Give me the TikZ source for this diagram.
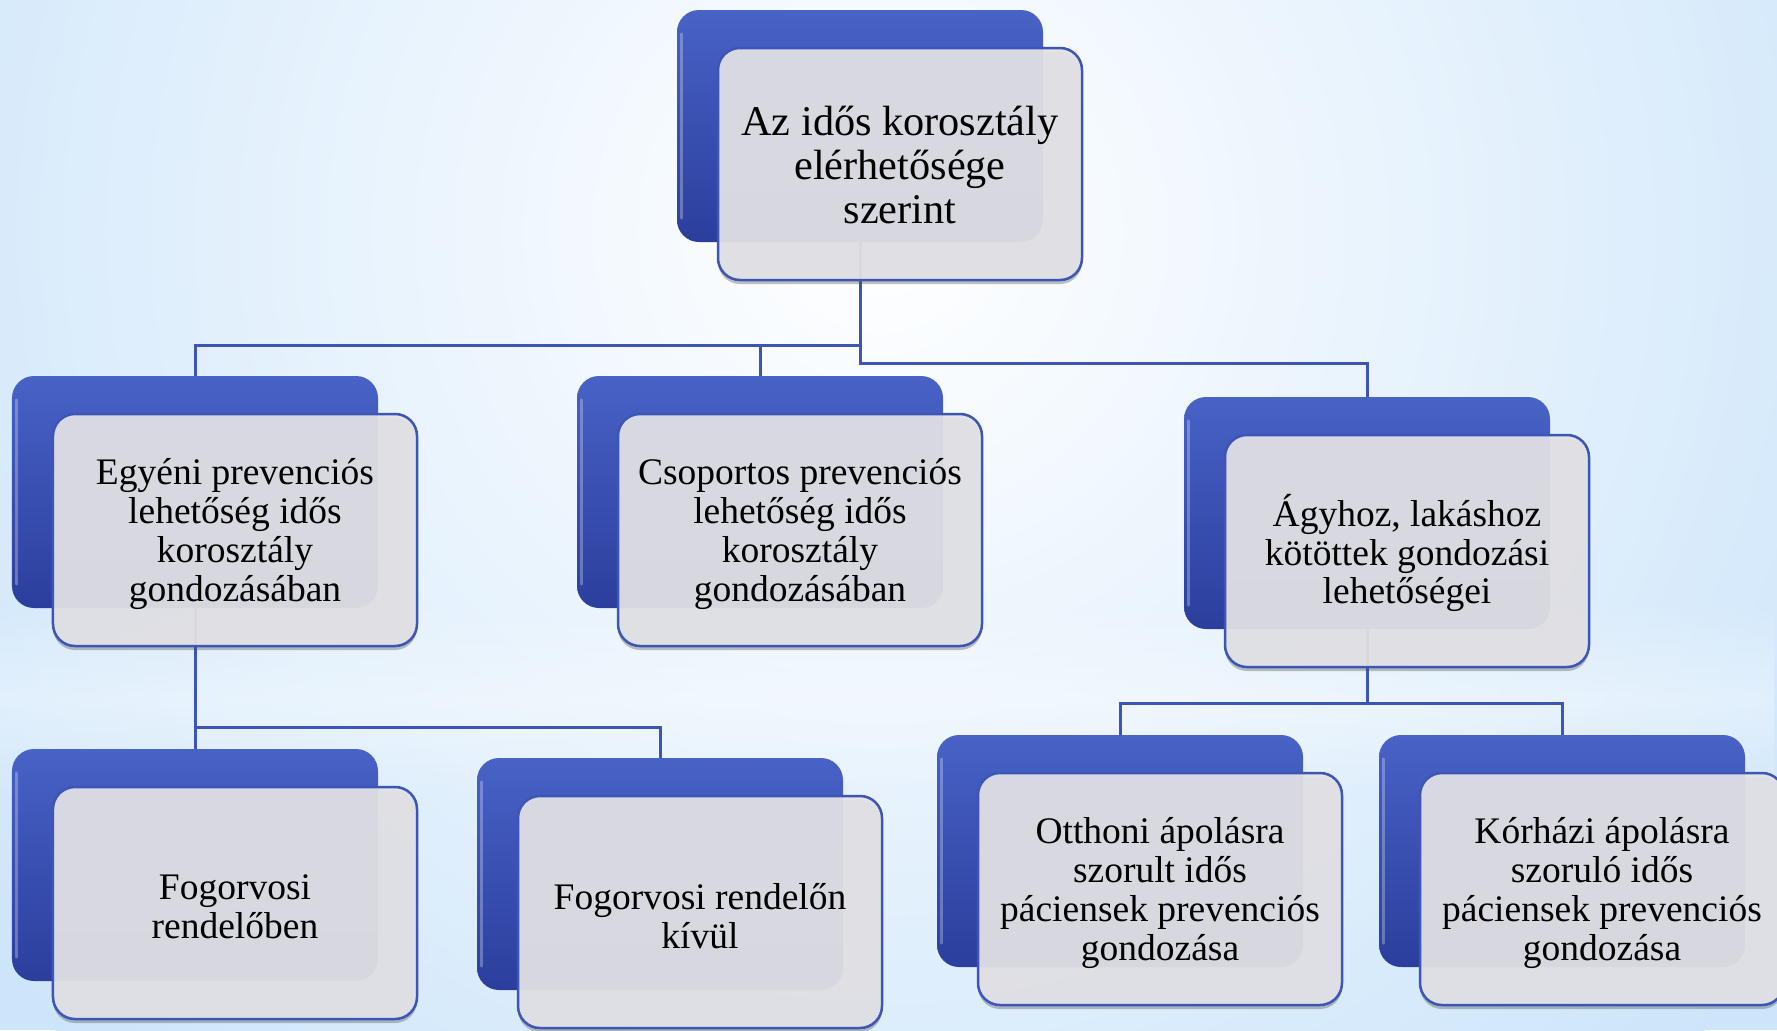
\documentclass[tikz,border=0pt]{standalone}
\usepackage{fontspec}
\setmainfont{Liberation Serif}
\usetikzlibrary{shadows,fadings}
\definecolor{bgblue}{HTML}{CDE5FA}
\definecolor{blueTop}{HTML}{4862C6}
\definecolor{blueBot}{HTML}{2B3E9C}
\definecolor{lineblue}{HTML}{3D55B4}
\definecolor{boxgray}{HTML}{E3E3E7}
\tikzfading[name=bandfade, top color=transparent!100, bottom color=transparent!100, middle color=transparent!0]
\tikzset{
  backbox/.style={rectangle, rounded corners=22bp, minimum width=366bp, minimum height=232bp,
    inner sep=0pt, top color=blueTop, bottom color=blueBot, draw=none},
  frontbox/.style={rectangle, rounded corners=22bp, minimum width=364bp, minimum height=232bp,
    inner sep=0pt, fill=boxgray, fill opacity=0.93, draw=lineblue, line width=2.5bp,
    drop shadow={shadow xshift=0bp, shadow yshift=-4bp, opacity=0.35, fill=black!70}},
  bigtext/.style={align=center, text=black, font=\fontsize{42.3bp}{44bp}\selectfont},
  smalltext/.style={align=center, text=black, font=\fontsize{37.5bp}{38.7bp}\selectfont},
  conn/.style={draw=lineblue, line width=3bp},
  gloss/.style={draw=white, draw opacity=0.28, line width=3bp, line cap=round}
}
\begin{document}
\begin{tikzpicture}[x=1bp,y=-1bp]
\useasboundingbox (0,0) rectangle (1777,1030);
% background
\fill[bgblue] (0,0) rectangle (1777,1030);
\shade[inner color=white, outer color=bgblue] (880,230) circle (1150);
\fill[white, opacity=0.35, path fading=bandfade] (0,600) rectangle (1777,800);

% back boxes
\node[backbox] (rootB) at (860,126) {};
\node[backbox] (egyB) at (195,492) {};
\node[backbox] (csoB) at (760,492) {};
\node[backbox] (agyB) at (1367,513) {};
\node[backbox] (fogaB) at (195,865) {};
\node[backbox] (fogbB) at (660,874) {};
\node[backbox] (ottB) at (1120,851) {};
\node[backbox] (korB) at (1562,851) {};
\foreach \b in {rootB,egyB,csoB,agyB,fogaB,fogbB,ottB,korB}{
  \draw[gloss] ([xshift=5bp,yshift=-24bp]\b.north west) -- ([xshift=5bp,yshift=24bp]\b.south west);
}

% connectors
\draw[conn] (rootB.south) -- ++(0,103) -| (egyB.north);
\draw[conn] (rootB.south) -- ++(0,103) -| (csoB.north);
\draw[conn] (rootB.south) -- ++(0,121) -| (agyB.north);
\draw[conn] (egyB.south) -- ++(0,119) -| (fogaB.north);
\draw[conn] (egyB.south) -- ++(0,119) -| (fogbB.north);
\draw[conn] (agyB.south) -- ++(0,74) -| (ottB.north);
\draw[conn] (agyB.south) -- ++(0,74) -| (korB.north);

% front boxes
\node[frontbox] (rootF) at (900,164) {};
\node[frontbox] (egyF) at (235,530) {};
\node[frontbox] (csoF) at (800,530) {};
\node[frontbox] (agyF) at (1407,551) {};
\node[frontbox] (fogaF) at (235,903) {};
\node[frontbox] (fogbF) at (700,912) {};
\node[frontbox] (ottF) at (1160,889) {};
\node[frontbox] (korF) at (1602,889) {};

% texts
\node[bigtext] (rootT) at ([yshift=-1bp]rootF.center) {Az idős korosztály\\elérhetősége\\szerint};
\node[smalltext] (egyT) at ([yshift=-4bp]egyF.center) {Egyéni prevenciós\\lehetőség idős\\korosztály\\gondozásában};
\node[smalltext] (csoT) at ([yshift=-4bp]csoF.center) {Csoportos prevenciós\\lehetőség idős\\korosztály\\gondozásában};
\node[smalltext] (agyT) at ([yshift=-2bp]agyF.center) {Ágyhoz, lakáshoz\\kötöttek gondozási\\lehetőségei};
\node[smalltext] (fogaT) at ([yshift=-4bp]fogaF.center) {Fogorvosi\\rendelőben};
\node[smalltext] (fogbT) at ([yshift=-4bp]fogbF.center) {Fogorvosi rendelőn\\kívül};
\node[smalltext] (ottT) at ([yshift=-4bp]ottF.center) {Otthoni ápolásra\\szorult idős\\páciensek prevenciós\\gondozása};
\node[smalltext] (korT) at ([yshift=-4bp]korF.center) {Kórházi ápolásra\\szoruló idős\\páciensek prevenciós\\gondozása};
\end{tikzpicture}
\end{document}
